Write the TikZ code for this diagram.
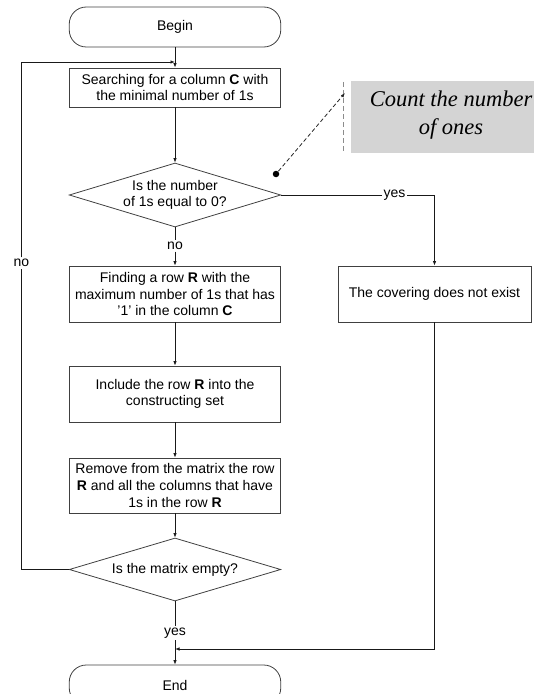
\documentclass[tikz,border=0pt]{standalone}
\usepackage{fontspec}
\setmainfont{Liberation Sans}
\newfontfamily\notefont{Liberation Serif}
\usetikzlibrary{shapes.geometric,arrows.meta}
\begin{document}
\begin{tikzpicture}[x=1bp,y=-1bp,
  font=\fontsize{14bp}{16.7bp}\selectfont,
  line width=0.8bp,
  >={Latex[length=4.5bp,width=3.5bp]},
  box/.style={draw=black!75, rectangle, minimum width=211.5bp, inner sep=2bp, align=center},
  term/.style={box, rounded corners=17bp, minimum height=40bp},
  dec/.style={draw=black!75, diamond, aspect=3.3, minimum width=211.5bp, inner sep=0pt, align=center},
  lbl/.style={inner sep=1.5bp},
  conn/.style={draw=black!90}
]
\useasboundingbox (0,0) rectangle (534,694);
\clip (0,0) rectangle (534,694);

% annotation
\fill[black!17] (351,81) rectangle (600,153);
\draw[black!45, dash pattern=on 5bp off 3bp] (343,82) -- (343,153);
\node[font=\notefont\itshape\fontsize{22.5bp}{28bp}\selectfont, align=center, inner sep=0pt] (note) at (451,115.5) {Count the number\\of ones};

% nodes
\node[term] (begin) at (175,27) {Begin};
\node[box, minimum height=39bp] (search) at (175,87.5) {Searching for a column \textbf{C} with\\the minimal number of 1s};
\node[dec, minimum height=64bp] (d1) at (175,195) {Is the number\\of 1s equal to 0?};
\node[box, minimum height=56bp] (find) at (175,294) {Finding a row \textbf{R} with the\\maximum number of 1s that has\\'1' in the column \textbf{C}};
\node[box, minimum height=56bp] (incl) at (175,394) {Include the row \textbf{R} into the\\constructing set};
\node[box, minimum height=55bp] (remove) at (175,485.5) {Remove from the matrix the row\\\textbf{R} and all the columns that have\\1s in the row \textbf{R}};
\node[dec, minimum height=63bp] (d2) at (175,569.5) {Is the matrix empty?};
\node[term] (end) at (175,685) {End};
\node[box, minimum width=193bp, minimum height=56bp] (cover) at (434.5,294) {The covering does not exist};

% labels
\node[lbl] (nod) at (175,246) {no};
\node[lbl] (yesr) at (394.5,195) {yes};
\node[lbl] (nol) at (21.5,263) {no};
\node[lbl] (yesb) at (175,633) {yes};

\coordinate (j1) at (175,62);
\coordinate (j2) at (175,649);
\coordinate (tip) at (345,93);
\node[circle, fill=black, inner sep=0pt, minimum size=6.5bp] (dot) at (276,174) {};

% connectors
\draw[conn,->] (begin) -- (search);
\draw[conn,->] (search) -- (d1);
\draw[conn] (d1.south) -- (nod.north);
\draw[conn,->] (nod.south) -- (find.north);
\draw[conn,->] (find) -- (incl);
\draw[conn,->] (incl) -- (remove);
\draw[conn,->] (remove) -- (d2);
\draw[conn] (d2.south) -- (yesb.north);
\draw[conn,->] (yesb.south) -- (end.north);
\draw[conn] (d1.east) -- (yesr.west);
\draw[conn,->] (yesr.east) -| (cover.north);
\draw[conn,->] (cover.south) |- (j2);
\draw[conn] (d2.west) -| (nol.south);
\draw[conn,->] (nol.north) |- (j1);
\draw[black!85, dash pattern=on 4bp off 2.5bp, ->] (dot) -- (tip);
\end{tikzpicture}
\end{document}
